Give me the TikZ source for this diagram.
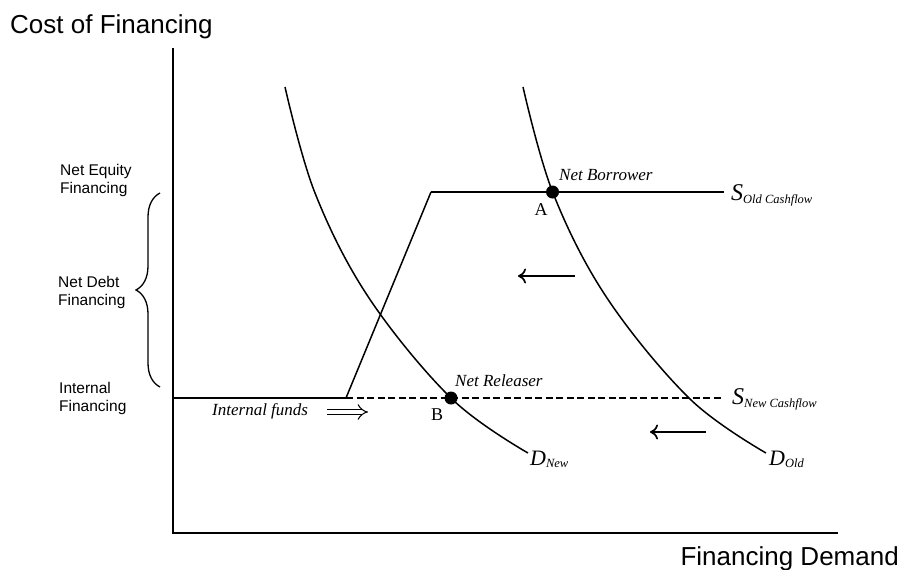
\documentclass[tikz,border=0pt]{standalone}
\usepackage{fontspec}
\setmainfont{Liberation Serif}
\setsansfont{Liberation Sans}
\usetikzlibrary{arrows.meta,decorations.pathreplacing}
\begin{document}
\begin{tikzpicture}[x=1pt,y=-1pt,
  axisline/.style={line width=2.2pt, line join=miter},
  curveline/.style={line width=1.5pt},
  thickline/.style={line width=2.8pt},
  dashline/.style={line width=1.3pt, dash pattern=on 7pt off 3.5pt},
  shiftarrow/.style={line width=1.7pt, -{Computer Modern Rightarrow[length=8pt,width=15pt]}},
  sanslab/.style={font=\sffamily\fontsize{15.5}{18}\selectfont, inner sep=0pt, anchor=base west},
  bigsans/.style={font=\sffamily\fontsize{26}{30}\selectfont, inner sep=0pt},
  itlab/.style={font=\itshape\fontsize{17}{20}\selectfont, inner sep=0pt, anchor=base west},
  ptlab/.style={font=\fontsize{18}{20}\selectfont, inner sep=0pt, anchor=base},
  dot/.style={fill=black}
]
\useasboundingbox (0,0) rectangle (900,570);

% axes
\coordinate (ytop) at (173,48);
\coordinate (orig) at (173,533);
\coordinate (xend) at (838,533);
\draw[axisline] (ytop) -- (orig) -- (xend);
\node[bigsans, anchor=base west] (ylab) at (10,33) {Cost of Financing};
\node[bigsans, anchor=base east] (xlab) at (899,565) {Financing Demand};

% left labels
\node[sanslab] (ne1) at (60,175) {Net Equity};
\node[sanslab] (ne2) at (60,193) {Financing};
\node[sanslab] (nd1) at (58,287) {Net Debt};
\node[sanslab] (nd2) at (58,305) {Financing};
\node[sanslab] (if1) at (59,393) {Internal};
\node[sanslab] (if2) at (59,411.5) {Financing};

% brace
\coordinate (bb) at (160,387);
\coordinate (bt) at (160,193);
\draw[line width=1.3pt, decorate, decoration={brace, amplitude=24pt}] (bb) -- (bt);

% supply curves
\coordinate (s0) at (173,398);
\coordinate (k1) at (346,398);
\coordinate (k2) at (431,192);
\coordinate (s1) at (724,192);
\coordinate (snew) at (722,398);
\draw[thickline] (s0) -- (k1);
\draw[curveline] (k1) -- (k2);
\draw[thickline] (k2) -- (s1);
\draw[dashline] (k1) -- (snew);

% demand curves
\draw[curveline] plot[smooth, tension=0.6] coordinates {(285,87) (315,193) (369,298) (452,399) (528,453)};
\begin{scope}[xshift=238pt]
\draw[curveline] plot[smooth, tension=0.6] coordinates {(285,87) (315,193) (369,298) (452,399) (528,453)};
\end{scope}

% points
\coordinate (A) at (552.5,192);
\coordinate (B) at (451,398);
\fill[dot] (A) circle (6.5);
\fill[dot] (B) circle (6.5);
\node[ptlab] (Alab) at (541,215) {A};
\node[ptlab] (Blab) at (437,420) {B};
\node[itlab] (nb) at (559,180) {Net Borrower};
\node[itlab] (nr) at (455,386) {Net Releaser};
\node[itlab] (ifl) at (212,415) {Internal funds};

% curve labels
\node[inner sep=0pt, anchor=base west] (sold) at (731,200) {{\fontsize{24}{24}\selectfont\itshape S}{\fontsize{12.5}{12.5}\selectfont\itshape\raisebox{-3.5pt}{Old Cashflow}}};
\node[inner sep=0pt, anchor=base west] (snewl) at (732,404) {{\fontsize{24}{24}\selectfont\itshape S}{\fontsize{12.5}{12.5}\selectfont\itshape\raisebox{-3.5pt}{New Cashflow}}};
\node[inner sep=0pt, anchor=base west] (dnew) at (530,465) {{\fontsize{22}{22}\selectfont\itshape D}{\fontsize{12.5}{12.5}\selectfont\itshape\raisebox{-2.5pt}{New}}};
\node[inner sep=0pt, anchor=base west] (dold) at (769,465) {{\fontsize{22}{22}\selectfont\itshape D}{\fontsize{12.5}{12.5}\selectfont\itshape\raisebox{-2.5pt}{Old}}};

% shift arrows
\coordinate (a1s) at (575,276);
\coordinate (a1e) at (518,276);
\coordinate (a2s) at (706,432);
\coordinate (a2e) at (650,432);
\draw[shiftarrow] (a1s) -- (a1e);
\draw[shiftarrow] (a2s) -- (a2e);

% internal funds double arrow
\coordinate (d1) at (327,412);
\coordinate (d2) at (368,412);
\draw[double, double distance=4.5pt, line width=1pt, -{Implies}] (d1) -- (d2);
\end{tikzpicture}
\end{document}
